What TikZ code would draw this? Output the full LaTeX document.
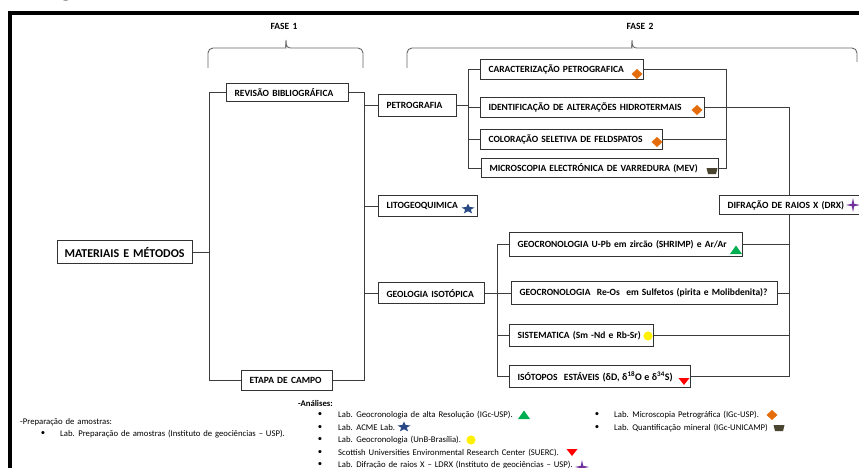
\documentclass[tikz,border=0pt]{standalone}
\usepackage{fontspec}
\setmainfont{Carlito}
\definecolor{boxline}{HTML}{333333}
\definecolor{wirecol}{HTML}{3C3C3C}
\definecolor{mkorange}{HTML}{E46C0A}
\definecolor{mkolive}{HTML}{4A4530}
\definecolor{mkblue}{HTML}{2A4A86}
\definecolor{mkgreen}{HTML}{00B050}
\definecolor{mkyellow}{HTML}{FFF200}
\definecolor{mkred}{HTML}{FF0000}
\definecolor{mkpurple}{HTML}{7030A0}
\newcommand\boxfont{\bfseries\fontsize{9.5}{11}\selectfont\spaceskip=0.36em plus 0.1em minus 0.05em\relax}
\newcommand\legfont{\fontsize{8.7}{10}\selectfont\spaceskip=0.33em plus 0.1em\relax}
\begin{document}
\begin{tikzpicture}[x=1pt,y=-1pt,
  box/.style={draw=boxline, line width=1.1pt, fill=white, anchor=north west,
    inner xsep=8pt, inner ysep=0pt, align=left, font=\boxfont,
    execute at begin node=\hbox\bgroup, execute at end node=\egroup},
  wire/.style={draw=wirecol, line width=1pt},
  bracepath/.style={draw=black!60, line width=0.9pt},
  legend/.style={anchor=west, inner sep=0pt, font=\legfont},
  bulletdot/.style={anchor=center, inner sep=0pt, font=\legfont},
  diamondmark/.pic={\fill[mkorange] (0,-5) -- (5.5,0) -- (0,5) -- (-5.5,0) -- cycle;},
  cupmark/.pic={\fill[mkolive] (-5.5,-3) -- (5.5,-3) -- (4,3) -- (-4,3) -- cycle;},
  starmark/.pic={\fill[mkblue, xscale=7, yscale=5.4] (-90:1) -- (-54:0.42) -- (-18:1) -- (18:0.42) -- (54:1) -- (90:0.42) -- (126:1) -- (162:0.42) -- (198:1) -- (234:0.42) -- cycle;},
  upmark/.pic={\fill[mkgreen] (0,-4.5) -- (6,4) -- (-6,4) -- cycle;},
  downmark/.pic={\fill[mkred] (-5.5,-3) -- (5.5,-3) -- (0,4) -- cycle;},
  roundmark/.pic={\fill[mkyellow] (0,0) circle (4.6);},
  sparkmark/.pic={\fill[mkpurple] (0,-7) -- (1.2,-1.2) -- (7,0) -- (1.2,1.2) -- (0,7) -- (-1.2,1.2) -- (-7,0) -- (-1.2,-1.2) -- cycle;}
]
\useasboundingbox (0,0) rectangle (859,468);
\clip (0,0) rectangle (859,468);
\fill[white] (0,0) rectangle (859,468);

% tail of the heading letter above the frame
\node[anchor=base, inner sep=0pt, font=\bfseries\fontsize{26}{26}\selectfont] (headtail) at (66,-3) {g};

% outer frame
\draw[line width=4pt, black] (10,480) -- (10,13) -- (880,13);

% phase headings and braces
\node[font=\boxfont] (fase1) at (284,26) {FASE 1};
\node[font=\boxfont] (fase2) at (640,26) {FASE 2};
\draw[bracepath] (208,68) [rounded corners=5pt] -- (208,48) -- (281,48) [sharp corners]
  .. controls (285,48) and (286,46) .. (286,40) .. controls (286,46) and (287,48) .. (291,48)
  [rounded corners=5pt] -- (363,48) -- (363,68);
\draw[bracepath] (407,68) [rounded corners=5pt] -- (407,48) -- (627,48) [sharp corners]
  .. controls (631,48) and (632,46) .. (632,40) .. controls (632,46) and (633,48) .. (637,48)
  [rounded corners=5pt] -- (857,48) -- (857,62);

% boxes
\node[box, font=\bfseries\fontsize{12}{14}\selectfont, inner xsep=7pt, text width=121pt, minimum height=23pt] (mat) at (57,240) {MATERIAIS E MÉTODOS};
\node[box, text width=106pt, minimum height=18pt] (revisao) at (226,83) {REVISÃO BIBLIOGRÁFICA};
\node[box, text width=75pt, minimum height=20pt] (etapa) at (241,370) {ETAPA\ DE CAMPO};
\node[box, text width=62pt, minimum height=22pt] (petro) at (378,94) {PETROGRAFIA};
\node[box, text width=83pt, minimum height=21pt] (lito) at (378,195) {LITOGEOQUIMICA};
\node[box, text width=90pt, minimum height=21pt] (geo) at (378,282) {GEOLOGIA\ ISOTÓPICA};
\node[box, text width=147pt, minimum height=20pt] (carac) at (480,59) {CARACTERIZAÇÃO\ PETROGRAFICA};
\node[box, text width=208pt, minimum height=20pt] (ident) at (480,97) {IDENTIFICAÇÃO\ DE\ ALTERAÇÕES\ HIDROTERMAIS};
\node[box, text width=166pt, minimum height=20pt] (color) at (480,129) {COLORAÇÃO\ SELETIVA DE FELDSPATOS};
\node[box, text width=221pt, minimum height=19pt] (mev) at (481,158) {MICROSCOPIA\ ELECTRÓNICA\ DE\ VARREDURA (MEV)};
\node[box, text width=136pt, minimum height=19pt] (drx) at (719,195) {DIFRAÇÃO DE RAIOS X (DRX)};
\node[box, text width=217pt, minimum height=24pt] (upb) at (509,232) {GEOCRONOLOGIA\ U-Pb em zircão (SHRIMP) e Ar/Ar};
\node[box, text width=250pt, minimum height=23pt] (reos) at (511,281) {GEOCRONOLOGIA\ \ Re-Os\ \ em Sulfetos (pirita e Molibdenita)?};
\node[box, text width=128pt, minimum height=22pt] (sist) at (509,324) {SISTEMATICA\ (Sm\ -Nd e Rb-Sr)};
\node[box, text width=165pt, minimum height=22pt] (iso) at (509,365) {ISÓTOPOS\ \ ESTÁVEIS\ {\fontsize{10}{12}\selectfont\spaceskip=0.25em\relax(δD, δ\textsuperscript{18}O e δ\textsuperscript{34}S)}};

% markers inside boxes
\pic at (637,74) {diamondmark};
\pic at (697,110) {diamondmark};
\pic at (657,142) {diamondmark};
\pic at (712,171) {cupmark};
\pic at (468,209) {starmark};
\pic at (853,205) {sparkmark};
\pic at (736,250) {upmark};
\pic at (648,336) {roundmark};
\pic at (684,381) {downmark};

% bus lines
\coordinate (busA) at (209,0);
\coordinate (busB) at (364,0);
\coordinate (busC) at (468,0);
\coordinate (busD) at (726,0);
\coordinate (busE) at (789,0);
\coordinate (busF) at (497,0);

% connectors
\draw[wire] (revisao.west) -| (busA |- etapa.west) -- (etapa.west);
\draw[wire] (revisao.east) -| (busB |- etapa.east) -- (etapa.east);
\draw[wire] (mat.east) -- (busA |- mat.east);
\draw[wire] (busB |- petro.west) -- (petro.west);
\draw[wire] (busB |- lito.west) -- (lito.west);
\draw[wire] (busB |- geo.west) -- (geo.west);
\draw[wire] (petro.east) -- (busC |- petro.east);
\draw[wire] (carac.west) -| (busC |- mev.west) -- (mev.west);
\draw[wire] (busC |- ident.west) -- (ident.west);
\draw[wire] (busC |- color.west) -- (color.west);
\draw[wire] (carac.east) -| (busD |- mev.east) -- (mev.east);
\draw[wire] (color.east) -- (busD |- color.east);
\draw[wire] (ident.east) -| (busE |- drx.north);
\draw[wire] (busE |- drx.south) |- (iso.east);
\draw[wire] (upb.east) -- (busE |- upb.east);
\draw[wire] (reos.east) -- (busE |- reos.east);
\draw[wire] (sist.east) -- (busE |- sist.east);
\draw[wire] (geo.east) -- (reos.west);
\draw[wire] (upb.west) -| (busF |- iso.west) -- (iso.west);
\draw[wire] (busF |- sist.west) -- (sist.west);

% legend: sample preparation
\node[legend] (prep) at (20,422) {-Preparação de amostras:};
\node[bulletdot] (prepb) at (43,434) {•};
\node[legend] (prep1) at (60,434) {Lab. Preparação de amostras (Instituto de geociências – USP).};

% legend: analyses
\node[legend, font=\legfont\bfseries] (anal) at (298,403) {-Análises:};
\node[bulletdot] (ab1) at (320,415) {•};
\node[legend] (a1) at (338,415) {Lab. Geocronologia\ de alta Resolução (IGc-USP).};
\node[bulletdot] (ab2) at (320,427.5) {•};
\node[legend] (a2) at (338,427.5) {Lab. ACME Lab.};
\node[bulletdot] (ab3) at (320,440) {•};
\node[legend] (a3) at (338,440) {Lab. Geocronologia\ (UnB-Brasília).};
\node[bulletdot] (ab4) at (320,452.5) {•};
\node[legend] (a4) at (338,452.5) {Scottish Universities Environmental\ Research Center (SUERC).};
\node[bulletdot] (ab5) at (320,465) {•};
\node[legend] (a5) at (338,465) {Lab. Difração de raios X – LDRX (Instituto de geociências\ – USP).};
\node[bulletdot] (ab6) at (597,415) {•};
\node[legend] (a6) at (614,415) {Lab. Microscopia\ Petrográfica (IGc-USP).};
\node[bulletdot] (ab7) at (597,428) {•};
\node[legend] (a7) at (614,428) {Lab. Quantificação\ mineral (IGc-UNICAMP)};

% legend markers
\pic at (524,415) {upmark};
\pic at (404,427) {starmark};
\pic at (471,440) {roundmark};
\pic at (572,452) {downmark};
\pic at (582,467) {sparkmark};
\pic at (772,415) {diamondmark};
\pic at (779,428) {cupmark};
\end{tikzpicture}
\end{document}
